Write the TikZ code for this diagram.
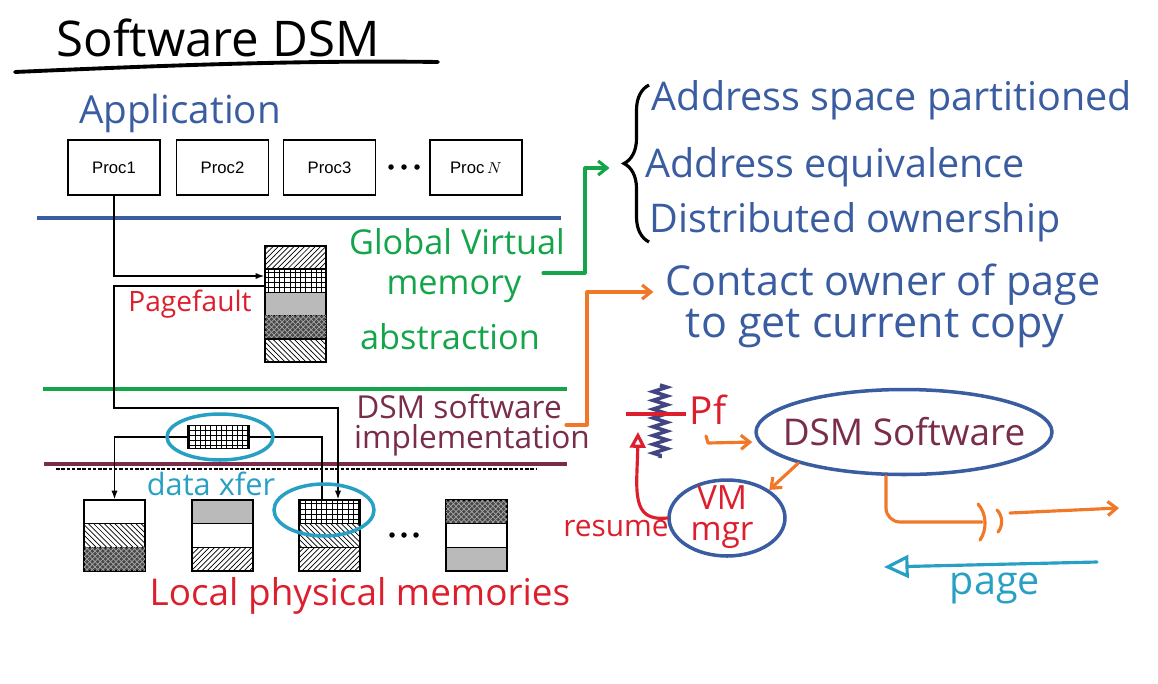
\documentclass[tikz,border=0pt]{standalone}
\usepackage{fontspec}
\setmainfont{Open Sans}
\newfontfamily\procfont{Liberation Sans}
\newfontfamily\hand{Open Sans}
\usetikzlibrary{patterns,arrows.meta,shapes.geometric,decorations.pathreplacing,decorations.pathmorphing,calc}
\definecolor{hblue}{RGB}{58,92,160}
\definecolor{hgreen}{RGB}{20,165,75}
\definecolor{hred}{RGB}{220,30,45}
\definecolor{hmaroon}{RGB}{122,45,75}
\definecolor{horange}{RGB}{240,120,40}
\definecolor{hcyan}{RGB}{40,160,195}
\definecolor{hnavy}{RGB}{65,70,130}
\newcommand\hfs[1]{\hand\fontsize{#1}{#1}\selectfont}
\begin{document}
\begin{tikzpicture}[x=0.02cm,y=-0.02cm,
  proc/.style={draw, line width=0.8pt, minimum width=1.84cm, minimum height=1.1cm, inner sep=0pt, font=\procfont\fontsize{9.5}{11}\selectfont},
  cell/.style={draw, line width=0.8pt, inner sep=0pt, minimum width=1.22cm, minimum height=0.47cm},
  darkcell/.style={fill=black!72, postaction={pattern=crosshatch, pattern color=black!35}},
  graycell/.style={fill=black!27},
  conn/.style={line width=0.8pt},
  tipb/.style={-{Latex[length=5pt,width=3.6pt]}},
  hline/.style={line width=2.6pt},
  hstroke/.style={line width=1.8pt, line cap=round, line join=round},
  barb/.style={-{Straight Barb[length=5pt,width=8pt]}},
  oval/.style={ellipse, draw=hblue, line width=2pt, inner sep=0pt},
  dot/.style={circle, fill=black, inner sep=0pt, minimum size=0.11cm}
]
\useasboundingbox (0,0) rectangle (1158,683);

% title
\node[font=\hfs{28}] (title) at (218,38) {Software DSM};
\draw[line width=2.2pt, line cap=round] (15,72) .. controls (150,66) and (300,60) .. (438,62);

\node[font=\hfs{22}, text=hblue] (app) at (180,113) {Application};

% processors
\node[proc] (p1) at (114,167.5) {Proc1};
\node[proc] (p2) at (222.5,167.5) {Proc2};
\node[proc] (p3) at (329.5,167.5) {Proc3};
\node[proc] (pn) at (476,167.5) {Proc\,$N$};
\node[dot] (d1) at (391,167) {};
\node[dot] (d2) at (404,167) {};
\node[dot] (d3) at (417,167) {};

% layer lines
\draw[hline, hblue] (37,218) -- (561,218);
\draw[hline, hgreen] (43,389) -- (567,389);
\draw[hline, hmaroon] (44,464) -- (567,464);
\draw[line width=0.6pt, dash pattern=on 2pt off 1pt] (56,469) -- (536,469);

% global virtual memory column
\node[cell, pattern=north east lines] (g1) at (295.5,257.6) {};
\node[cell, pattern=grid] (g2) at (295.5,280.8) {};
\node[cell, graycell] (g3) at (295.5,304) {};
\node[cell, darkcell] (g4) at (295.5,327.2) {};
\node[cell, pattern=north west lines] (g5) at (295.5,350.4) {};

% local memories
\node[cell] (l1a) at (114.5,511.8) {};
\node[cell, pattern=north west lines] (l1b) at (114.5,535.5) {};
\node[cell, darkcell] (l1c) at (114.5,559.2) {};
\node[cell, graycell] (l2a) at (222.5,511.8) {};
\node[cell] (l2b) at (222.5,535.5) {};
\node[cell, pattern=north east lines] (l2c) at (222.5,559.2) {};
\node[cell, pattern=grid] (l3a) at (329.5,511.8) {};
\node[cell, pattern=north west lines] (l3b) at (329.5,535.5) {};
\node[cell, pattern=north east lines] (l3c) at (329.5,559.2) {};
\node[cell, darkcell] (l4a) at (476.5,511.8) {};
\node[cell] (l4b) at (476.5,535.5) {};
\node[cell, graycell] (l4c) at (476.5,559.2) {};
\node[dot] (d4) at (392,535) {};
\node[dot] (d5) at (404,535) {};
\node[dot] (d6) at (416,535) {};

% data transfer block
\node[cell, pattern=grid] (data) at (218.5,437) {};

% connectors (black)
\coordinate (a1) at ($(g2.west)+(0,-4.8)$);
\coordinate (b1) at ($(g2.west)+(0,5.2)$);
\coordinate (bend1) at (114,408);
\coordinate (bend2) at (338,408);
\draw[conn, tipb] (p1.south) |- (a1);
\draw[conn, tipb] (b1) -| (bend1) -- (bend2) -- (bend2 |- l3a.north);
\draw[conn, tipb] (data.west) -| (l1a.north);
\draw[conn] (data.east) -| ($(l3a.north)+(-7.5,0)$);

% cyan ellipses
\node[ellipse, draw=hcyan, line width=2pt, minimum width=2.12cm, minimum height=0.92cm] (e1) at (220,437) {};
\node[ellipse, draw=hcyan, line width=2pt, minimum width=2cm, minimum height=1.04cm] (e2) at (324,510) {};

% left labels
\node[font=\hfs{16}, text=hred] (pf) at (190,304) {Pagefault};
\node[font=\hfs{19.5}, text=hgreen] (gv1) at (457,242) {Global Virtual};
\node[font=\hfs{19.5}, text=hgreen] (gv2) at (454,289) {memory};
\node[font=\hfs{19.5}, text=hgreen] (gv3) at (450,337) {abstraction};
\node[font=\hfs{18}, text=hmaroon] (ds1) at (459,407) {DSM software};
\node[font=\hfs{18}, text=hmaroon] (ds2) at (472,440) {implementation};
\node[font=\hfs{17.5}, text=hcyan] (dx) at (211,484) {data xfer};
\node[font=\hfs{21}, text=hred] (lpm) at (360,596) {Local physical memories};

% right top text
\draw[line width=1.8pt, decorate, decoration={brace, amplitude=0.5cm}] (649,242) -- (649,85);
\coordinate (bracetip) at (620,168);
\node[font=\hfs{22.5}, text=hblue] (t1) at (892,100) {Address space partitioned};
\node[font=\hfs{22.5}, text=hblue] (t2) at (835,167) {Address equivalence};
\node[font=\hfs{22.5}, text=hblue] (t3) at (855,222) {Distributed ownership};
\node[font=\hfs{23.5}, text=hblue] (t4) at (883,285) {Contact owner of page};
\node[font=\hfs{24.5}, text=hblue] (t5) at (875,328) {to get current copy};

% green bracket arrow
\coordinate (gs) at (543,273);
\coordinate (gc1) at (585,273);
\coordinate (gc2) at (585,168);
\draw[hstroke, hgreen, barb, shorten >=6pt] (gs) -- (gc1) -- (gc2) -- (bracetip);

% orange bracket arrow
\coordinate (os) at (566,425);
\coordinate (oc1) at (587,425);
\coordinate (oc2) at (587,292);
\draw[hstroke, horange, barb] (os) -- (oc1) -- (oc2) -- ($(t4.west)+(-6,7)$);

% page fault handling
\draw[hnavy, line width=2pt, decorate, decoration={zigzag, amplitude=4pt, segment length=5pt}] (660,385) -- (660,458);
\draw[hred, line width=1.8pt] (626,414) -- (686,414);
\node[font=\hfs{22}, text=hred] (pfl) at (708,410) {Pf};

\node[oval, minimum width=5.92cm, minimum height=1.7cm] (dsm) at (904,432) {};
\node[text=hmaroon, font=\hfs{21}] (dsmt) at (dsm.center) {DSM Software};
\node[oval, minimum width=2.32cm, minimum height=1.52cm] (vm) at (727,518) {};
\node[text=hred, font=\hfs{19}, align=center] (vmt) at (722,517) {VM\\[-1pt]mgr};

\coordinate (pfs) at (706,436);
\coordinate (pfc) at (708,443);
\draw[hstroke, horange, barb] (pfs) -- (pfc) -- ($(dsm.west)+(-2,10)$);
\draw[hstroke, horange, barb] (dsm.south west) -- (vm.north east);

\coordinate (rtip) at (638,432);
\draw[hstroke, hred, -{Triangle[open,length=9pt,width=9pt]}] (vm.west) .. controls (630,522) and (637,490) .. (rtip);
\node[font=\hfs{17}, text=hred] (res) at (616,528) {resume};

% outgoing request
\coordinate (ob) at ($(dsm.south)+(-18,0)$);
\coordinate (oe) at (982,522);
\draw[hstroke, horange, rounded corners=8pt] (ob) -- (ob |- oe) -- (oe);
\draw[hstroke, horange] (978,504) .. controls (987,514) and (987,530) .. (980,540);
\draw[hstroke, horange] (997,510) .. controls (1003,516) and (1003,526) .. (998,532);
\coordinate (os2) at (1010,513);
\coordinate (oe2) at (1119,508);
\draw[hstroke, horange, barb] (os2) -- (oe2);

% page returning
\coordinate (ps) at (1097,562);
\coordinate (pe) at (884,567);
\draw[hstroke, hcyan, -{Triangle[open,length=14pt,width=13pt]}] (ps) -- (pe);
\node[font=\hfs{22.5}, text=hcyan] (pg) at (995,588) {page};
\end{tikzpicture}
\end{document}
